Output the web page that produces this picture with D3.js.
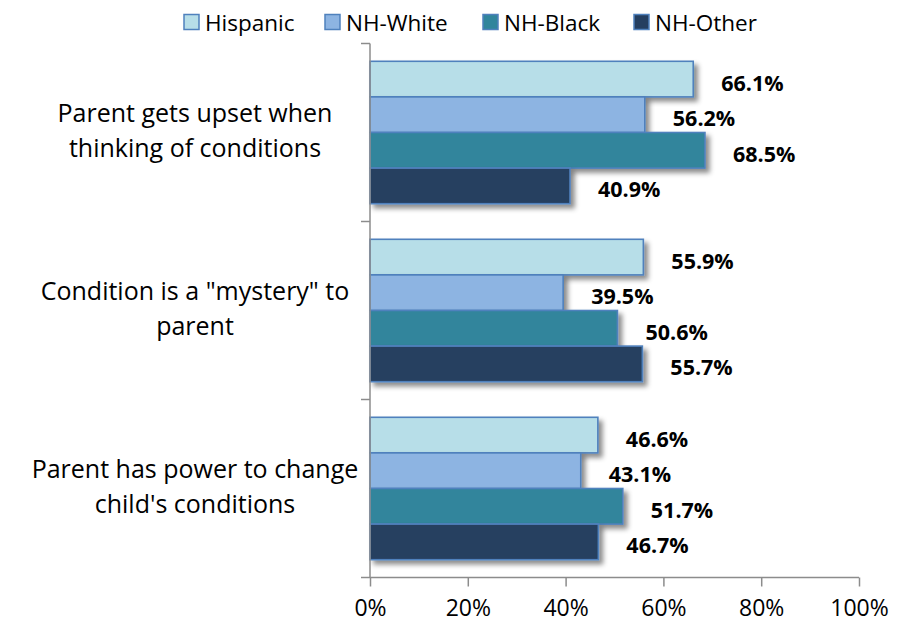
<!DOCTYPE html>
<html>
<head>
<meta charset="utf-8">
<script src="https://cdn.jsdelivr.net/npm/d3@7"></script>
<style>
  html, body { margin: 0; padding: 0; background: #fff; }
  svg { display: block; font-family: "Open Sans", sans-serif; }
</style>
</head>
<body>
<svg id="chart" width="897" height="626"></svg>
<script>
// ---- data ----
const categories = [
  "Parent gets upset when thinking of conditions",
  "Condition is a \"mystery\" to parent",
  "Parent has power to change child's conditions"
];
const categoryLines = [
  ["Parent gets upset when", "thinking of conditions"],
  ["Condition is a \"mystery\" to", "parent"],
  ["Parent has power to change", "child's conditions"]
];
const seriesNames = ["Hispanic", "NH-White", "NH-Black", "NH-Other"];
const hispanic = [66.1, 55.9, 46.6];
const nhWhite  = [56.2, 39.5, 43.1];
const nhBlack  = [68.5, 50.6, 51.7];
const nhOther  = [40.9, 55.7, 46.7];
const tickValues = [0, 20, 40, 60, 80, 100];
const tickLabels = ["0%", "20%", "40%", "60%", "80%", "100%"];

const seriesValues = [hispanic, nhWhite, nhBlack, nhOther];
const colors = ["#B7DEE8", "#8DB4E2", "#31859C", "#253F60"];
const borderColor = "#4F81BD";
const axisColor = "#8C8C8C";

// ---- layout ----
const svg = d3.select("#chart");
const x = d3.scaleLinear().domain([0, 100]).range([370, 859]);
const y = d3.scaleBand().domain(categories).range([43.5, 577.5]).paddingInner(0).paddingOuter(0);
const yInner = d3.scaleBand().domain(seriesNames).range([0, y.bandwidth()]).paddingInner(0).paddingOuter(0.5);
const color = d3.scaleOrdinal().domain(seriesNames).range(colors);

// shadow filter
const defs = svg.append("defs");
const f = defs.append("filter").attr("id", "shadow").attr("x", "-10%").attr("y", "-30%").attr("width", "130%").attr("height", "180%");
f.append("feDropShadow").attr("dx", 4).attr("dy", 4).attr("stdDeviation", 2.5)
  .attr("flood-color", "#000").attr("flood-opacity", 0.45);

// bars
const rows = [];
categories.forEach((c, i) => {
  seriesNames.forEach((s, j) => rows.push({ cat: c, series: s, value: seriesValues[j][i] }));
});

const barG = svg.append("g");
barG.selectAll("rect").data(rows).join("rect")
  .attr("x", x(0))
  .attr("y", d => y(d.cat) + yInner(d.series))
  .attr("width", d => x(d.value) - x(0))
  .attr("height", yInner.bandwidth())
  .attr("fill", d => color(d.series))
  .attr("stroke", borderColor)
  .attr("stroke-width", 1.6)
  .attr("filter", "url(#shadow)");

// data labels
svg.append("g").selectAll("text").data(rows).join("text")
  .attr("x", d => x(d.value) + 28)
  .attr("y", d => y(d.cat) + yInner(d.series) + yInner.bandwidth() / 2 + 3)
  .attr("dominant-baseline", "central")
  .attr("font-size", 21.5)
  .attr("font-weight", "bold")
  .attr("fill", "#000")
  .text(d => d.value.toFixed(1) + "%");

// y axis (category)
const yAxis = d3.axisLeft(y).tickSize(0).tickFormat("");
const yg = svg.append("g").attr("transform", `translate(${x(0)},0)`).call(yAxis);
yg.select(".domain").attr("stroke", axisColor).attr("stroke-width", 1.5).attr("d", `M0,${y.range()[0]}V${y.range()[1]}`);
// boundary ticks
const bounds = categories.map(c => y(c)).concat([y.range()[1]]);
yg.selectAll(".btick").data(bounds).join("line").attr("class", "btick")
  .attr("x1", -9).attr("x2", 0).attr("y1", d => d).attr("y2", d => d)
  .attr("stroke", axisColor).attr("stroke-width", 1.5);

// category labels
const catG = svg.append("g");
categories.forEach((c, i) => {
  const cy = y(c) + y.bandwidth() / 2;
  const t = catG.append("text")
    .attr("text-anchor", "middle")
    .attr("font-size", 25)
    .attr("fill", "#000");
  categoryLines[i].forEach((line, k) => {
    t.append("tspan").attr("x", 195).attr("y", cy - 11 + k * 35).text(line);
  });
});

// x axis
const xAxis = d3.axisBottom(x).tickValues(tickValues).tickSize(9).tickPadding(13)
  .tickFormat((d, i) => tickLabels[i]);
const xg = svg.append("g").attr("transform", `translate(0,${y.range()[1]})`).call(xAxis);
xg.select(".domain").attr("stroke", axisColor).attr("stroke-width", 1.5).attr("d", `M${x(0)},0H${x(100)}`);
xg.selectAll(".tick line").attr("stroke", axisColor).attr("stroke-width", 1.5);
xg.selectAll(".tick text").attr("font-size", 23).attr("font-family", "Open Sans, sans-serif").attr("fill", "#000");

// legend
const legendX = [184, 325, 483, 634];
const lg = svg.append("g");
seriesNames.forEach((s, i) => {
  const g = lg.append("g").attr("transform", `translate(${legendX[i]},22)`);
  g.append("rect").attr("x", 0).attr("y", -7.5).attr("width", 15).attr("height", 15)
    .attr("fill", color(s)).attr("stroke", borderColor).attr("stroke-width", 1.5);
  g.append("text").attr("x", 21).attr("y", 0).attr("dominant-baseline", "central")
    .attr("font-size", 22.5).attr("fill", "#000").text(s);
});
</script>
</body>
</html>
